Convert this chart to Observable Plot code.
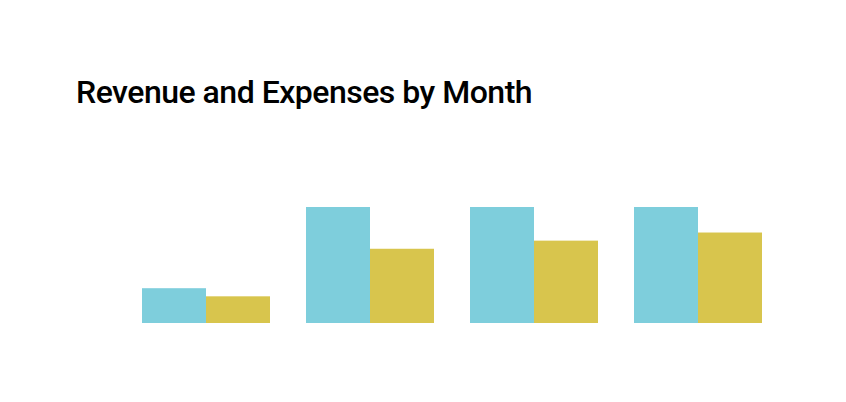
<!DOCTYPE html>
<html>
<head>
<meta charset="utf-8">
<script src="https://cdn.jsdelivr.net/npm/d3@7"></script>
<script src="https://cdn.jsdelivr.net/npm/@observablehq/plot@0.6"></script>
<style>
  body { margin: 0; background: #fff; width: 846px; height: 402px; overflow: hidden; }
  #title { position: absolute; left: 76px; top: 72px; font-family: Roboto, sans-serif; font-weight: 500; font-size: 32px; line-height: 40px; letter-spacing: -0.5px; color: #000; white-space: nowrap; }
  #chart { position: absolute; left: 0; top: 112px; }
</style>
</head>
<body>
<div id="title">Revenue and Expenses by Month</div>
<div id="chart"></div>
<script>
const months = ["Jan", "Feb", "Mar", "Apr"];
const seriesNames = ["Revenue", "Expenses"];
const revenue = [30, 100, 100, 100];
const expenses = [23, 64, 71, 78];
const colors = ["#7ECEDC", "#D8C54D"];

const data = [];
months.forEach((m, i) => {
  data.push({month: m, series: "Revenue", value: revenue[i]});
  data.push({month: m, series: "Expenses", value: expenses[i]});
});

const chart = Plot.plot({
  width: 846,
  height: 290,
  marginTop: 95,
  marginBottom: 79,
  marginLeft: 142,
  marginRight: 84,
  fx: {domain: months, paddingInner: 0.2195, paddingOuter: 0, round: false, axis: null, label: null},
  x: {domain: seriesNames, padding: 0, round: false, axis: null},
  y: {domain: [0, 100], axis: null},
  color: {domain: seriesNames, range: colors},
  marks: [
    Plot.barY(data, {fx: "month", x: "series", y: "value", fill: "series"})
  ]
});
document.getElementById("chart").appendChild(chart);
</script>
</body>
</html>
